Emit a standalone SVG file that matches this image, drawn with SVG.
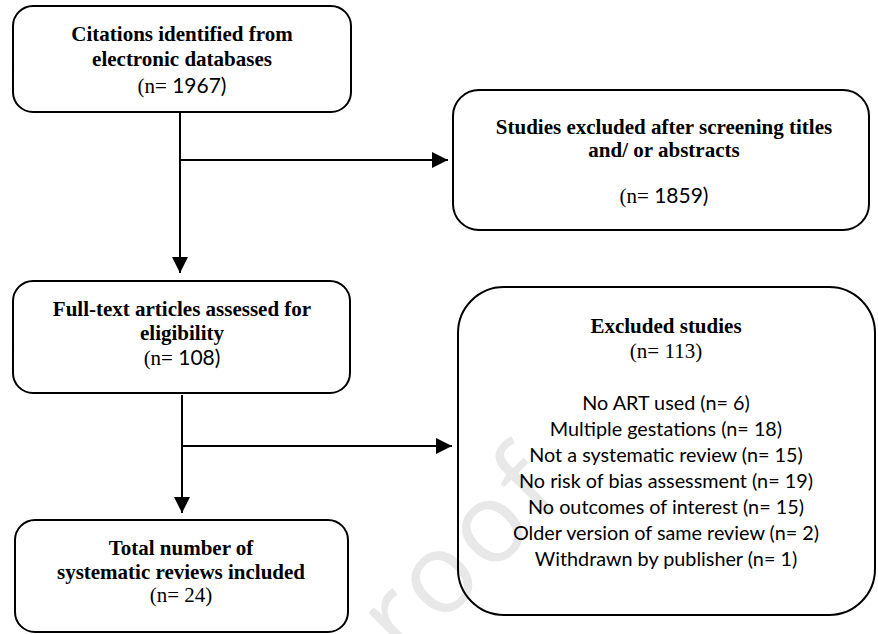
<svg xmlns="http://www.w3.org/2000/svg" width="878" height="634" viewBox="0 0 878 634">
<style>
.box{fill:none;stroke:#000;stroke-width:2}
.t{font-family:"Liberation Serif","Times New Roman",serif;font-size:21px;font-weight:bold;text-anchor:middle;fill:#000}
.n{font-family:"Liberation Serif","Times New Roman",serif;font-size:21px;text-anchor:middle;fill:#000}
.s{font-family:Lato,"Liberation Sans",sans-serif}
.c{font-family:Lato,"Liberation Sans",sans-serif;font-size:19.8px;text-anchor:middle;fill:#000}
.ln{fill:none;stroke:#000;stroke-width:2}
.wm{font-family:"Open Sans","Liberation Sans",sans-serif;font-size:112px;letter-spacing:4px;fill:#e8e8e8}
</style>
<defs>
<marker id="ah" markerUnits="userSpaceOnUse" markerWidth="16" markerHeight="16" viewBox="0 0 16 16" refX="16" refY="8" orient="auto">
<path d="M0,0 L16,8 L0,16 Z" fill="#000"/>
</marker>
</defs>
<rect width="878" height="634" fill="#fff"/>
<text class="wm" transform="translate(404,662) rotate(-45)">roof</text>

<g id="connectors">
<line class="ln" x1="180" y1="113" x2="180" y2="273" marker-end="url(#ah)"/>
<line class="ln" x1="180" y1="160" x2="448" y2="160" marker-end="url(#ah)"/>
<line class="ln" x1="182" y1="395" x2="182" y2="513" marker-end="url(#ah)"/>
<line class="ln" x1="182" y1="446" x2="452" y2="446" marker-end="url(#ah)"/>
</g>

<g id="citations">
<rect class="box" x="13" y="6" width="338" height="106" rx="20"/>
<text class="t" x="182" y="41">Citations identified from</text>
<text class="t" x="182" y="66">electronic databases</text>
<text class="n" x="182" y="93">(n= <tspan class="s">1967)</tspan></text>
</g>

<g id="excluded-screening">
<rect class="box" x="453" y="90" width="416" height="140" rx="26"/>
<text class="t" x="664" y="134">Studies excluded after screening titles</text>
<text class="t" x="664" y="157">and/ or abstracts</text>
<text class="n" x="664" y="203">(n= <tspan class="s">1859)</tspan></text>
</g>

<g id="fulltext">
<rect class="box" x="13" y="281" width="337" height="112" rx="20"/>
<text class="t" x="182" y="316">Full-text articles assessed for</text>
<text class="t" x="182" y="340">eligibility</text>
<text class="n" x="182" y="365">(n= <tspan class="s">108)</tspan></text>
</g>

<g id="excluded-studies">
<rect class="box" x="458" y="287" width="417" height="328" rx="46"/>
<text class="t" x="666" y="333">Excluded studies</text>
<text class="n" x="666" y="358">(n= 113)</text>
<text class="c" x="666" y="410">No ART used (n= 6)</text>
<text class="c" x="666" y="436">Multiple gestations (n= 18)</text>
<text class="c" x="666" y="462">Not a systematic review (n= 15)</text>
<text class="c" x="666" y="488">No risk of bias assessment (n= 19)</text>
<text class="c" x="666" y="514">No outcomes of interest (n= 15)</text>
<text class="c" x="666" y="540">Older version of same review (n= 2)</text>
<text class="c" x="666" y="566">Withdrawn by publisher (n= 1)</text>
</g>

<g id="included">
<rect class="box" x="15" y="520" width="333" height="112" rx="20"/>
<text class="t" x="181" y="555">Total number of</text>
<text class="t" x="181" y="579">systematic reviews included</text>
<text class="n" x="181" y="602">(n= 24)</text>
</g>
</svg>
